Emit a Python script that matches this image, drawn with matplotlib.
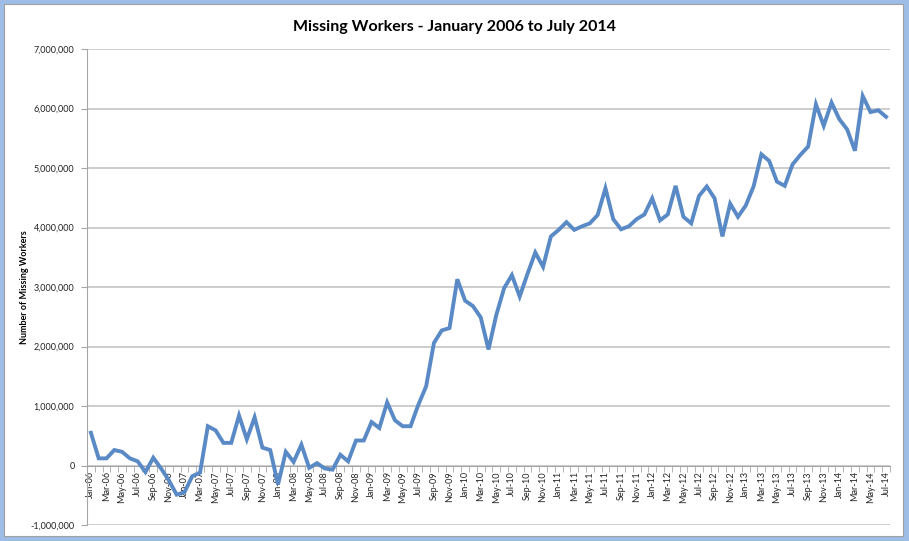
import numpy as np
import pandas as pd
import matplotlib
matplotlib.use("Agg")
import matplotlib.pyplot as plt
from matplotlib.patches import Rectangle
from matplotlib.ticker import FuncFormatter, MultipleLocator

plt.rcParams['font.family'] = ['Lato', 'DejaVu Sans']

# monthly data, Jan-06 .. Jul-14 (millions of workers)
months = pd.date_range('2006-01-01', '2014-07-01', freq='MS')
month_labels = [d.strftime('%b-%y') for d in months]

missing_2006 = [0.55, 0.12, 0.12, 0.26, 0.23, 0.12, 0.07, -0.11, 0.13, -0.05, -0.25, -0.49]
missing_2007 = [-0.45, -0.18, -0.12, 0.66, 0.59, 0.38, 0.38, 0.84, 0.44, 0.81, 0.30, 0.26]
missing_2008 = [-0.32, 0.23, 0.06, 0.35, -0.04, 0.04, -0.05, -0.07, 0.18, 0.07, 0.42, 0.42]
missing_2009 = [0.73, 0.63, 1.06, 0.76, 0.66, 0.66, 1.02, 1.33, 2.06, 2.27, 2.31, 3.13]
missing_2010 = [2.77, 2.68, 2.49, 1.95, 2.53, 2.98, 3.20, 2.84, 3.22, 3.58, 3.34, 3.85]
missing_2011 = [3.96, 4.09, 3.96, 4.02, 4.07, 4.21, 4.66, 4.14, 3.97, 4.02, 4.14, 4.22]
missing_2012 = [4.49, 4.12, 4.22, 4.70, 4.18, 4.07, 4.53, 4.69, 4.49, 3.85, 4.40, 4.18]
missing_2013 = [4.37, 4.69, 5.23, 5.12, 4.77, 4.70, 5.06, 5.22, 5.36, 6.07, 5.71, 6.10]
missing_2014 = [5.82, 5.65, 5.29, 6.21, 5.94, 5.97, 5.86]

missing = np.array(missing_2006 + missing_2007 + missing_2008 + missing_2009 + missing_2010
                   + missing_2011 + missing_2012 + missing_2013 + missing_2014) * 1e6

fig = plt.figure(figsize=(9.09, 5.41), dpi=100)
fig.patch.set_facecolor('#9dbde6')
# white chart area inside the spreadsheet frame
fig.patches.append(Rectangle((4 / 909, 5 / 541), 899 / 909, 532 / 541,
                             transform=fig.transFigure, facecolor='white',
                             edgecolor='#a0a0a0', linewidth=0.8, zorder=-5))

ax = fig.add_axes([87 / 909, 16 / 541, 803 / 909, 476 / 541])
ax.set_zorder(2)
x = np.arange(len(missing))
ax.plot(x, missing, color='#5a8ac6', linewidth=2.8, solid_joinstyle='miter', zorder=3)

ax.set_xlim(-0.5, len(missing) - 0.5)
ax.set_ylim(-1e6, 7e6)
ax.yaxis.set_major_locator(MultipleLocator(1e6))
ax.yaxis.set_major_formatter(FuncFormatter(lambda v, p: f'{v:,.0f}'))
ax.grid(axis='y', color='#c0c0c0', linewidth=1.1)
ax.set_axisbelow(True)

# category axis sits at zero, labels every other month
ax.spines['bottom'].set_position(('data', 0))
for s in ['top', 'right']:
    ax.spines[s].set_visible(False)
ax.spines['left'].set_color('#a6a6a6')
ax.spines['bottom'].set_color('#a6a6a6')
ax.set_xticks(x[::2])
ax.set_xticklabels(month_labels[::2], rotation=90, fontsize=6.5, color='#222222')
ax.set_xticks(np.arange(-0.5, len(missing), 1), minor=True)
ax.tick_params(axis='x', which='major', length=0, pad=4)
ax.tick_params(axis='x', which='minor', length=4, color='#a6a6a6', direction='out')
ax.tick_params(axis='y', length=4, color='#a6a6a6', labelsize=6.5, labelcolor='#222222', pad=5)

fig.text(0.5, 1 - 27 / 541, 'Missing Workers - January 2006 to July 2014',
         ha='center', va='center', fontsize=11.5, fontweight='bold', color='black')
fig.text(25 / 909, 1 - 287 / 541, 'Number of Missing Workers', rotation=90,
         ha='center', va='center', fontsize=6.5, fontweight='bold', color='black')

fig.savefig('out.png', dpi=100, facecolor=fig.get_facecolor())
